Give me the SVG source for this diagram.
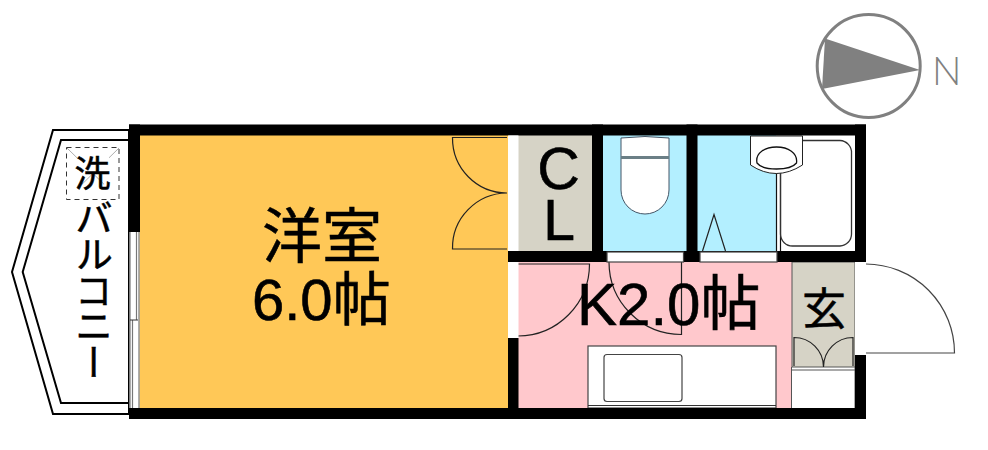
<svg xmlns="http://www.w3.org/2000/svg" width="988" height="450" viewBox="0 0 988 450">
<style>
.wall{fill:#000}
.w{fill:#fff}
.ln{fill:none;stroke:#222;stroke-width:1.2}
.fx{fill:#fff;stroke:#444;stroke-width:1.2}
.t{font-family:"Liberation Sans","Noto Sans CJK JP",sans-serif;fill:#000;stroke:#000;stroke-width:.6}
.c{font-family:"Noto Sans CJK JP",sans-serif;fill:#000;stroke:#000;stroke-width:.5}
</style>
<rect width="988" height="450" fill="#fff"/>
<g id="compass">
<circle cx="868.7" cy="66" r="51.5" fill="#fff" stroke="#808080" stroke-width="3"/>
<polygon points="825,38.5 920,70 822,89" fill="#808080"/>
<text x="932" y="85" font-family="Lato,sans-serif" font-weight="300" font-size="39" fill="#808080">N</text>
</g>
<g id="balcony">
<polygon points="129,130 53,130 12,272 53,414 129,414" fill="#fff" stroke="#000" stroke-width="2"/>
<polygon points="129,140 61,140 22.7,272 61,403 129,403" fill="#fff" stroke="#000" stroke-width="2"/>
<rect x="66.500" y="147.500" width="52.500" height="52" fill="none" stroke="#333" stroke-width="1" stroke-dasharray="5 4"/>
<path d="M67 148 119 199M119 148 67 199" stroke="#999" stroke-width="0.8" stroke-dasharray="14 24" fill="none"/>
<text class="c" x="92.500" y="187" font-size="36" text-anchor="middle">洗</text>
<text class="c" x="94" y="199" font-size="38" letter-spacing="-2" style="writing-mode:vertical-rl">バルコニー</text>
</g>
<g id="room-western">
<rect x="139" y="135" width="370" height="274" fill="#ffc857"/>
<path class="ln" d="M507 137.500H452.500A55 55 0 0 0 507 193A55 55 0 0 0 452.500 249H507"/>
<text class="c" x="322" y="258" font-size="60" text-anchor="middle">洋室</text>
<text class="t" x="252" y="320" font-size="58">6.0帖</text>
</g>
<g id="closet">
<rect x="518" y="135" width="75" height="117" fill="#d6d3c6"/>
<text class="t" x="558.500" y="189" font-size="59" text-anchor="middle">C</text>
<text class="t" x="559" y="240" font-size="57" text-anchor="middle">L</text>
</g>
<g id="toilet">
<rect x="602" y="135" width="85" height="117" fill="#b3efff"/>
<path d="M621 138Q645 135 669 138V190A24 24 0 0 1 621 190Z" fill="#fff" stroke="#456" stroke-width="1"/>
<rect x="621" y="156" width="48" height="3" fill="#6b7f86"/>
</g>
<g id="washroom">
<rect x="697" y="135" width="80" height="117" fill="#b3efff"/>
<rect x="776" y="135" width="80" height="117" fill="#fff"/>
<path d="M776.500 172V252M780.500 172V252" stroke="#111" stroke-width="1.200" fill="none"/>
<path d="M802 140.500H840A12 12 0 0 1 851.500 153V234A12 12 0 0 1 840 246H793A12 12 0 0 1 780.500 234V172" fill="none" stroke="#333" stroke-width="1.300"/>
<path d="M750.500 136V165Q776 182 802.500 165V136Z" fill="#fff" stroke="#222" stroke-width="1"/>
<path d="M757 163C755 153 765 147 776.500 147C788 147 798 153 796.500 163C790 171 763 171 757 163Z" fill="#fff" stroke="#111" stroke-width="1.300"/>
<path class="ln" d="M702.500 251 714 214.500 725.500 251"/>
</g>
<g id="kitchen">
<rect x="518" y="262" width="274" height="147" fill="#ffc8cc"/>
<path class="ln" d="M518 264H589.500A72 72 0 0 1 518 336" stroke-width="1"/>
<path class="ln" d="M609 262A72.500 72.500 0 0 0 681.500 334.500V262" stroke-width="1"/>
<rect x="588" y="346" width="188" height="62" class="fx"/>
<path d="M588 405.500H776" stroke="#333" stroke-width="1"/>
<rect x="604" y="354.500" width="78" height="47" rx="3" class="fx" stroke="#222"/>
<text class="t" x="577" y="325" font-size="60">K2.0帖</text>
</g>
<g id="entrance">
<rect x="792" y="262" width="63" height="106" fill="#d6d3c6" stroke="#555" stroke-width="1"/>
<rect x="792" y="367" width="63" height="42" fill="#fff"/>
<path d="M792 367H855M792 370H855M791.500 367V408M855 367V408" stroke="#555" stroke-width="1" fill="none"/>
<path class="ln" d="M794 366V337.500A29.500 29.500 0 0 1 823.500 367A29.500 29.500 0 0 1 853 337.500V366" stroke-width="1"/>
<text class="c" x="824" y="325" font-size="44" text-anchor="middle">玄</text>
</g>
<g id="walls">
<rect class="wall" x="129" y="124.500" width="737" height="11"/>
<rect class="wall" x="129" y="408" width="737" height="11"/>
<rect class="wall" x="129" y="124.500" width="11" height="107.500"/>
<rect class="wall" x="508" y="251" width="358" height="11"/>
<rect class="wall" x="592" y="124.500" width="11" height="137"/>
<rect class="wall" x="686.500" y="124.500" width="11" height="137"/>
<rect class="wall" x="855" y="124.500" width="11" height="137"/>
<rect class="wall" x="855" y="355" width="11" height="64"/>
<rect class="wall" x="508" y="338" width="10.500" height="81"/>
<rect x="508" y="135.500" width="10.500" height="115.500" class="w"/>
<rect x="508" y="262" width="10.500" height="76" class="w"/>
<rect x="855" y="262" width="11" height="93" class="w"/>
<rect x="607" y="252" width="76.500" height="10" class="fx" stroke-width="0.800"/>
<rect x="700" y="252" width="77" height="10" class="fx" stroke-width="0.800"/>
<g id="window" fill="none" stroke="#555" stroke-width="1.200">
<rect x="129.500" y="232" width="10" height="176" fill="#fff" stroke="none"/>
<path d="M130 232V408M136.500 232V320M132.500 320V408M139 232V408" stroke="#777"/>
<path d="M130 320H138" stroke="#333" stroke-width="1"/>
</g>
</g>
<g id="door">
<path d="M866 264A89 89 0 0 1 954.500 353H866" fill="#fff" stroke="#444" stroke-width="1.200"/>
</g>
</svg>
